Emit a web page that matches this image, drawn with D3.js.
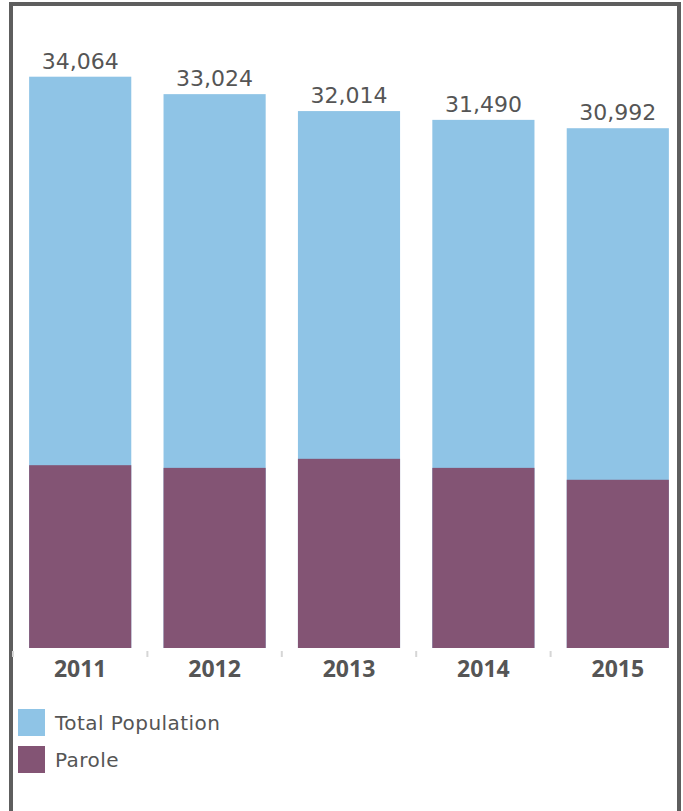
<!DOCTYPE html>
<html>
<head>
<meta charset="utf-8">
<script src="https://cdn.jsdelivr.net/npm/d3@7"></script>
<style>
  html, body { margin: 0; padding: 0; background: #ffffff; }
  svg { display: block; }
</style>
</head>
<body>
<svg id="chart" width="683" height="811"></svg>
<script>
// Population counts by year
const years = ["2011", "2012", "2013", "2014", "2015"];
const totalPopulation = [34064, 33024, 32014, 31490, 30992];
const parole = [10900, 10740, 11280, 10740, 10030];
const seriesNames = ["Total Population", "Parole"];

const colors = { total: "#8fc4e6", parole: "#835474" };
const textColor = "#555555";

const svg = d3.select("#chart");

// Frame around the panel (open at the bottom edge of the view)
svg.append("rect")
  .attr("x", 11).attr("y", 4)
  .attr("width", 668).attr("height", 900)
  .attr("fill", "none")
  .attr("stroke", "#5e5e5e")
  .attr("stroke-width", 4);

const x = d3.scaleBand()
  .domain(years)
  .range([13, 685])
  .paddingInner(0.24)
  .paddingOuter(0.12);

const y = d3.scaleLinear()
  .domain([0, 35000])
  .range([648, 61]);

const rows = years.map((yr, i) => ({ year: yr, total: totalPopulation[i], parole: parole[i] }));

// Total population bars
svg.append("g").selectAll("rect")
  .data(rows)
  .join("rect")
  .attr("x", d => x(d.year))
  .attr("width", x.bandwidth())
  .attr("y", d => y(d.total))
  .attr("height", d => y(0) - y(d.total))
  .attr("fill", colors.total);

// Parole bars drawn over the base of each total bar
svg.append("g").selectAll("rect")
  .data(rows)
  .join("rect")
  .attr("x", d => x(d.year))
  .attr("width", x.bandwidth())
  .attr("y", d => y(d.parole))
  .attr("height", d => y(0) - y(d.parole))
  .attr("fill", colors.parole);

// Value labels above the bars
svg.append("g").selectAll("text")
  .data(rows)
  .join("text")
  .attr("x", d => x(d.year) + x.bandwidth() / 2)
  .attr("y", d => y(d.total) - 8)
  .attr("text-anchor", "middle")
  .attr("font-family", "DejaVu Sans, sans-serif")
  .attr("font-size", 22)
  .attr("fill", textColor)
  .text(d => d3.format(",")(d.total));

// Category axis: small separators between bands and bold year labels
const sepOffset = x.step() * x.paddingInner() / 2;
svg.append("g").selectAll("line")
  .data(years)
  .join("line")
  .attr("x1", d => x(d) - sepOffset)
  .attr("x2", d => x(d) - sepOffset)
  .attr("y1", 651).attr("y2", 657)
  .attr("stroke", "#d6d6d6")
  .attr("stroke-width", 2);

svg.append("g").selectAll("text")
  .data(years)
  .join("text")
  .attr("x", d => x(d) + x.bandwidth() / 2)
  .attr("y", 677)
  .attr("text-anchor", "middle")
  .attr("font-family", "Open Sans, sans-serif")
  .attr("font-weight", "bold")
  .attr("font-size", 23)
  .attr("fill", textColor)
  .text(d => d);

// Legend
const legend = svg.append("g").selectAll("g")
  .data(seriesNames)
  .join("g")
  .attr("transform", (d, i) => `translate(18, ${709 + i * 37})`);

legend.append("rect")
  .attr("width", 27).attr("height", 27)
  .attr("fill", (d, i) => i === 0 ? colors.total : colors.parole);

legend.append("text")
  .attr("x", 37)
  .attr("y", 20.5)
  .attr("font-family", "DejaVu Sans, sans-serif")
  .attr("font-size", 20)
  .attr("letter-spacing", 0.45)
  .attr("fill", textColor)
  .text(d => d);
</script>
</body>
</html>
